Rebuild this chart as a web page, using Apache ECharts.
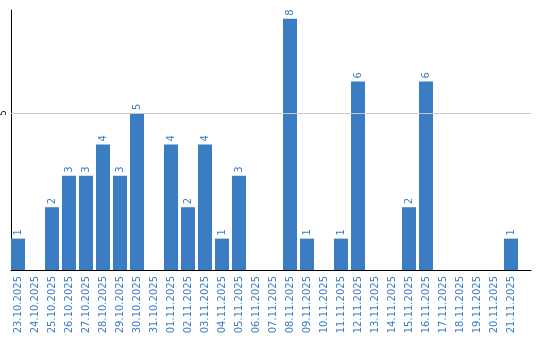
<!DOCTYPE html>
<html>
<head>
<meta charset="utf-8">
<script src="https://cdn.jsdelivr.net/npm/echarts@6/dist/echarts.min.js"></script>
<style>html,body{margin:0;padding:0;background:#fff}#c{width:540px;height:340px}</style>
</head>
<body>
<div id="c"></div>
<script>
const categories = ["23.10.2025","24.10.2025","25.10.2025","26.10.2025","27.10.2025","28.10.2025","29.10.2025","30.10.2025","31.10.2025","01.11.2025","02.11.2025","03.11.2025","04.11.2025","05.11.2025","06.11.2025","07.11.2025","08.11.2025","09.11.2025","10.11.2025","11.11.2025","12.11.2025","13.11.2025","14.11.2025","15.11.2025","16.11.2025","17.11.2025","18.11.2025","19.11.2025","20.11.2025","21.11.2025"];
const counts = [1,0,2,3,3,4,3,5,0,4,2,4,1,3,0,0,8,1,0,1,6,0,0,2,6,0,0,0,0,1];
const yTicks = [5];
const yMax = 8.28;
const blue = '#3b7dc3';
const font = 'DejaVu Sans';

const chart = echarts.init(document.getElementById('c'), null, {renderer:'canvas'});
chart.setOption({
  animation: false,
  grid: [
    {left: 9.5, right: 20.5, top: 10, bottom: 70},
    {left: 10.5, right: 9, top: 10, bottom: 70}
  ],
  xAxis: [
    {
      type: 'category', gridIndex: 0, data: categories,
      axisLine: {show: false}, axisTick: {show: false},
      axisLabel: {rotate: 90, interval: 0, color: blue, fontSize: 10, fontFamily: font, margin: 6}
    },
    {
      type: 'value', gridIndex: 1, min: 0, max: 1,
      axisLine: {show: true, onZero: false, lineStyle: {color: '#000', width: 1}},
      axisTick: {show: false}, axisLabel: {show: false}, splitLine: {show: false}
    }
  ],
  yAxis: [
    {
      type: 'value', gridIndex: 0, min: 0, max: yMax,
      show: false, splitLine: {show: false}
    },
    {
      type: 'value', gridIndex: 1, min: 0, max: yMax, interval: 5,
      axisLine: {show: true, lineStyle: {color: '#000', width: 1}},
      axisTick: {show: false},
      axisLabel: {
        rotate: 90, color: '#000', fontSize: 8, fontFamily: font, margin: 3,
        formatter: v => (yTicks.includes(v) ? String(v) : '')
      },
      splitLine: {show: false}
    }
  ],
  series: [{
    type: 'bar', xAxisIndex: 0, yAxisIndex: 0,
    data: counts.map(v => v === 0 ? null : v),
    barWidth: 14,
    itemStyle: {color: blue},
    label: {
      show: true, position: 'top', rotate: 90, distance: 3,
      align: 'left', verticalAlign: 'middle',
      color: blue, fontSize: 10, fontFamily: font
    }
  }, {
    type: 'line', xAxisIndex: 1, yAxisIndex: 1, data: [],
    silent: true,
    markLine: {
      silent: true, symbol: 'none', animation: false,
      label: {show: false},
      lineStyle: {color: '#c8c8c8', width: 1, type: 'solid'},
      data: yTicks.map(t => ({yAxis: t}))
    }
  }]
});
</script>
</body>
</html>
